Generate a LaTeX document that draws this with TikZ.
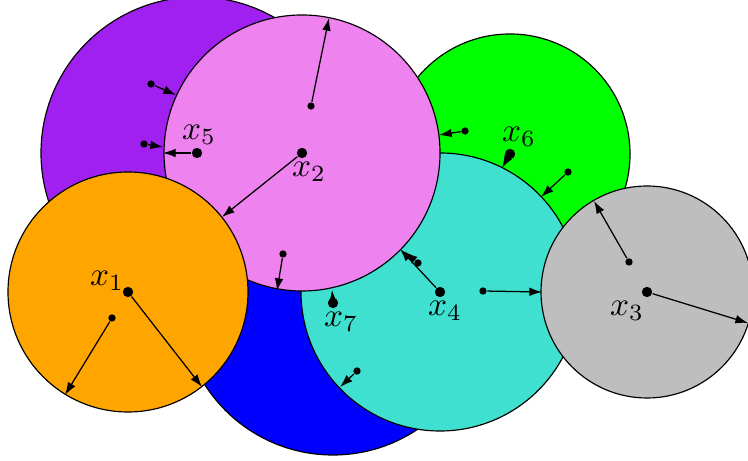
\documentclass[tikz,border=0pt]{standalone}
\usetikzlibrary{arrows.meta}
\definecolor{cpurple}{RGB}{160,32,240}
\definecolor{cviolet}{RGB}{238,130,238}
\definecolor{cgreen}{RGB}{0,255,0}
\definecolor{cturq}{RGB}{64,224,208}
\definecolor{cgray}{RGB}{190,190,190}
\definecolor{corange}{RGB}{255,165,0}
\definecolor{cblue}{RGB}{0,0,255}
\begin{document}
\begin{tikzpicture}[x=0.3pt,y=-0.3pt,
  disk/.style={draw=black,line width=0.35pt},
  bigdot/.style={circle,fill=black,inner sep=0pt,minimum size=3.1pt},
  smalldot/.style={circle,fill=black,inner sep=0pt,minimum size=2.2pt},
  vec/.style={-{Latex[length=3.8pt,width=2.6pt]},line width=0.38pt},
  lab/.style={inner sep=0pt}]
\useasboundingbox (0,0) rectangle (748,461);
% disks
\draw[disk,fill=cpurple] (197,153) circle[radius=156];
\draw[disk,fill=cblue] (333,303) circle[radius=152];
\draw[disk,fill=cgreen] (510,154) circle[radius=120];
\draw[disk,fill=cturq] (440,292) circle[radius=139];
\draw[disk,fill=cgray] (647,292) circle[radius=106];
\draw[disk,fill=cviolet] (302,153) circle[radius=138];
\draw[disk,fill=corange] (128,292) circle[radius=120];
% centres
\node[bigdot] (c1) at (128,292) {};
\node[bigdot] (c2) at (302,153) {};
\node[bigdot] (c3) at (647,292) {};
\node[bigdot] (c4) at (440,292) {};
\node[bigdot] (c5) at (197,153) {};
\node[bigdot] (c6) at (510,154) {};
\node[bigdot] (c7) at (333,303) {};
% small points
\node[smalldot] (s1) at (151,84) {};
\node[smalldot] (s2) at (144,144) {};
\node[smalldot] (s4) at (311,106) {};
\node[smalldot] (s6) at (465,131) {};
\node[smalldot] (s8) at (568,172) {};
\node[smalldot] (s9) at (629,262) {};
\node[smalldot] (s12) at (418,263) {};
\node[smalldot] (s13) at (483,291) {};
\node[smalldot] (s14) at (357,371) {};
\node[smalldot] (s15) at (283,254) {};
\node[smalldot] (s18) at (112,318) {};
% end points
\coordinate (e1) at (176,95);
\coordinate (e2) at (163,147);
\coordinate (e3) at (163,153);
\coordinate (e4) at (329,18);
\coordinate (e5) at (222,217);
\coordinate (e6) at (439,135);
\coordinate (e7) at (502,168);
\coordinate (e8) at (541,197);
\coordinate (e9) at (594,201);
\coordinate (e10) at (748,323);
\coordinate (e11) at (400,249);
\coordinate (e12) at (405,252);
\coordinate (e13) at (542,292);
\coordinate (e14) at (340,387);
\coordinate (e15) at (277,291);
\coordinate (e16) at (332,290);
\coordinate (e17) at (202,387);
\coordinate (e18) at (65,395);
% vectors
\draw[vec] (s1) -- (e1);
\draw[vec] (s2) -- (e2);
\draw[vec] (c5) -- (e3);
\draw[vec] (s4) -- (e4);
\draw[vec] (c2) -- (e5);
\draw[vec] (s6) -- (e6);
\draw[vec] (c6) -- (e7);
\draw[vec] (s8) -- (e8);
\draw[vec] (s9) -- (e9);
\draw[vec] (c3) -- (e10);
\draw[vec] (c4) -- (e11);
\draw[vec] (s12) -- (e12);
\draw[vec] (s13) -- (e13);
\draw[vec] (s14) -- (e14);
\draw[vec] (s15) -- (e15);
\draw[vec] (c7) -- (e16);
\draw[vec] (c1) -- (e17);
\draw[vec] (s18) -- (e18);
% labels
\node[lab] (l1) at (107,281) {$x_1$};
\node[lab] (l2) at (309,172) {$x_2$};
\node[lab] (l3) at (627,311) {$x_3$};
\node[lab] (l4) at (445,311) {$x_4$};
\node[lab] (l5) at (199,135) {$x_5$};
\node[lab] (l6) at (519,137) {$x_6$};
\node[lab] (l7) at (341,322) {$x_7$};
\end{tikzpicture}
\end{document}
